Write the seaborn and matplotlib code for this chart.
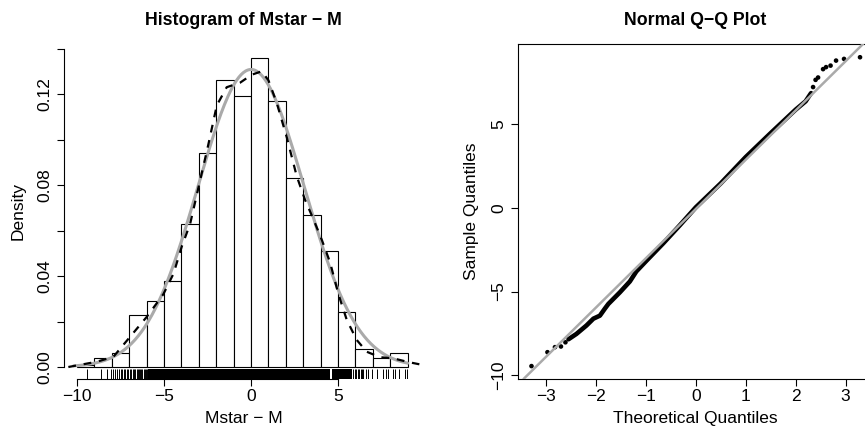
"""
Histogram of Mstar - M with density overlays, and a normal Q-Q plot.
R base-graphics look, drawn with seaborn/matplotlib.
"""

import numpy as np
import matplotlib
matplotlib.use('Agg')
import matplotlib.pyplot as plt
import seaborn as sns

# =========================================================================
# Data
# =========================================================================
# histogram: unit-width bins from -10 to 9, density per bin
bin_edges = list(range(-10, 10))
bin_density = [0.001, 0.004, 0.006, 0.023, 0.029, 0.038, 0.063, 0.094, 0.126, 0.119,
               0.136, 0.117, 0.083, 0.067, 0.051, 0.024, 0.008, 0.004, 0.006]

# kernel density estimate (dashed black)
kde_x = [-10.5, -8.87, -7.91, -6.95, -6.0, -5.04, -4.46, -3.98, -3.5, -2.93, -2.45,
         -1.97, -1.40, -0.63, 0.04, 0.61, 1.0, 1.48, 2.05, 2.62, 3.1, 3.58, 4.06,
         4.54, 5.02, 5.5, 6.07, 6.65, 7.41, 8.18, 9.02, 9.67]
kde_y = [0.0, 0.0023, 0.0045, 0.0133, 0.022, 0.032, 0.041, 0.053, 0.063, 0.082, 0.098,
         0.115, 0.123, 0.125, 0.1285, 0.130, 0.126, 0.116, 0.101, 0.084, 0.0735, 0.065,
         0.056, 0.046, 0.032, 0.0207, 0.0119, 0.0067, 0.0043, 0.0038, 0.0022, 0.0012]

# fitted normal (grey curve)
norm_mean = 0.0
norm_sd = 3.05
norm_range = (-10.2, 9.0)

# rug: single ticks in the tails, solid spans in the middle
rug_ticks = [-9.41, -8.62, -8.29, -8.07, -7.91, -7.80, -7.70, -7.60, -7.50, -7.40,
             -7.33, -7.22, -7.13, -7.05, -6.95, -6.88, -6.80, -6.72, -6.66, -6.58,
             -6.52, -6.45, -6.38, -6.30, -6.25, -6.18, -6.12, -6.05, -6.0,
             5.85, 5.95, 6.05, 6.12, 6.20, 6.30, 6.38, 6.46, 6.61, 6.74, 6.93,
             7.22, 7.60, 7.76, 7.86, 8.14, 8.28, 8.52, 8.85, 8.94]
rug_spans = [(-5.95, 4.55), (4.65, 5.8)]

# Q-Q plot: dense middle part and isolated tail points
qq_theo = [-2.55, -2.39, -2.19, -2.05, -1.92, -1.82, -1.75, -1.52, -1.32, -1.19,
           -0.99, -0.65, -0.32, 0.0, 0.5, 1.0, 1.5, 2.0, 2.2, 2.31]
qq_sample = [-7.85, -7.53, -7.03, -6.62, -6.44, -6.02, -5.74, -5.05, -4.40, -3.80,
             -3.17, -2.12, -1.05, 0.02, 1.45, 3.02, 4.45, 5.85, 6.35, 6.84]
qq_tail_theo = [-3.29, -2.97, -2.82, -2.70, -2.61, 2.35, 2.40, 2.45, 2.55, 2.61,
                2.70, 2.81, 2.97, 3.29]
qq_tail_sample = [-9.45, -8.62, -8.32, -8.28, -8.03, 7.20, 7.63, 7.77, 8.27, 8.39,
                  8.48, 8.78, 8.88, 8.98]
qq_intercept = -0.08
qq_slope = 2.94

GREY = '#aaaaaa'

# =========================================================================
# Style
# =========================================================================
sns.set_style('ticks')
plt.rcParams['font.family'] = ['Liberation Sans', 'DejaVu Sans']
plt.rcParams['axes.unicode_minus'] = True
plt.rcParams['text.color'] = 'black'
plt.rcParams['axes.labelcolor'] = 'black'
plt.rcParams['xtick.color'] = 'black'
plt.rcParams['ytick.color'] = 'black'

W, H = 865, 430
fig = plt.figure(figsize=(W / 100, H / 100), dpi=100)


def px_axes(left, right, top, bottom):
    return fig.add_axes([left / W, (H - bottom) / H, (right - left) / W, (bottom - top) / H])


def r_axis_style(ax):
    ax.tick_params(axis='both', length=5, width=0.8, color='black',
                   labelsize=12.5, labelcolor='black')
    ax.tick_params(axis='x', pad=2)
    ax.tick_params(axis='y', pad=3.5)
    for lab in ax.get_yticklabels():
        lab.set_rotation(90)
        lab.set_va('center')


# =========================================================================
# Left: histogram
# =========================================================================
ax1 = px_axes(64, 423, 44, 379)
centers = [e + 0.5 for e in bin_edges[:-1]]
sns.histplot(x=centers, weights=bin_density, bins=bin_edges, color='white',
             edgecolor='black', linewidth=0.8, alpha=1, ax=ax1, zorder=2)

nx = np.linspace(norm_range[0], norm_range[1], 300)
ny = np.exp(-0.5 * ((nx - norm_mean) / norm_sd) ** 2) / (norm_sd * np.sqrt(2 * np.pi))
sns.lineplot(x=nx, y=ny, color=GREY, linewidth=2.2, ax=ax1, zorder=3)
sns.lineplot(x=kde_x, y=kde_y, color='black', linewidth=1.6,
             linestyle=(0, (3.5, 3.5)), ax=ax1, zorder=4)

sns.rugplot(x=rug_ticks, height=0.03, color='black', linewidth=0.7,
            expand_margins=False, ax=ax1)
for lo, hi in rug_spans:
    ax1.axvspan(lo, hi, ymin=0, ymax=0.03, color='black', lw=0)

ax1.set_xlim(-10.75, 9.88)
ax1.set_ylim(-0.00527, 0.142)
ax1.set_xticks([-10, -5, 0, 5])
ax1.set_xticklabels(['−10', '−5', '0', '5'])
yt = [0.0, 0.02, 0.04, 0.06, 0.08, 0.10, 0.12, 0.14]
ax1.set_yticks(yt)
ax1.set_yticklabels(['0.00', '', '0.04', '', '0.08', '', '0.12', ''])
sns.despine(ax=ax1)
ax1.spines['left'].set_bounds(0, 0.14)
ax1.spines['bottom'].set_bounds(-10, 5)
for s in ('left', 'bottom'):
    ax1.spines[s].set_linewidth(0.8)
    ax1.spines[s].set_color('black')
r_axis_style(ax1)
ax1.set_title('Histogram of Mstar − M', fontsize=12.8, fontweight='bold',
              pad=14, color='black')
ax1.set_xlabel('Mstar − M', fontsize=12.5)
ax1.set_ylabel('Density', fontsize=12.5)
ax1.xaxis.set_label_coords(0.5, -0.095)
ax1.yaxis.set_label_coords(-0.108, 0.5)

# =========================================================================
# Right: normal Q-Q plot
# =========================================================================
ax2 = px_axes(518, 873, 44, 379)
sns.lineplot(x=qq_theo, y=qq_sample, color='black', linewidth=3.3, ax=ax2, zorder=2)
sns.scatterplot(x=qq_tail_theo, y=qq_tail_sample, color='black', s=11,
                edgecolor='none', ax=ax2, zorder=2)
ax2.axline((0, qq_intercept), slope=qq_slope, color=GREY, linewidth=1.8, zorder=3)

ax2.set_xlim(-3.56, 3.55)
ax2.set_ylim(-10.22, 9.77)
ax2.set_xticks([-3, -2, -1, 0, 1, 2, 3])
ax2.set_xticklabels(['−3', '−2', '−1', '0', '1', '2', '3'])
ax2.set_yticks([-10, -5, 0, 5])
ax2.set_yticklabels(['−10', '−5', '0', '5'])
for s in ax2.spines.values():
    s.set_linewidth(0.8)
    s.set_color('black')
r_axis_style(ax2)
ax2.set_title('Normal Q−Q Plot', fontsize=12.8, fontweight='bold',
              pad=14, color='black')
ax2.set_xlabel('Theoretical Quantiles', fontsize=12.5)
ax2.set_ylabel('Sample Quantiles', fontsize=12.5)
ax2.xaxis.set_label_coords(0.5, -0.095)
ax2.yaxis.set_label_coords(-0.11, 0.5)

fig.savefig('out.png', dpi=100)
plt.close(fig)
